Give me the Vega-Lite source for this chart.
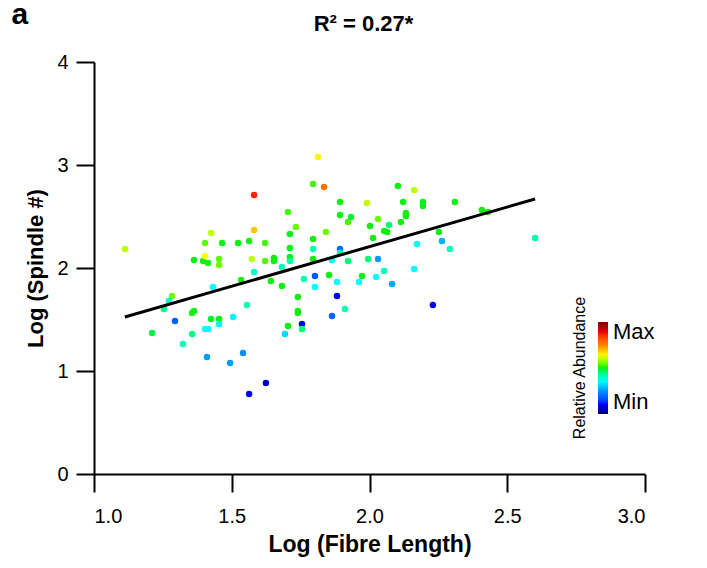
{
  "$schema": "https://vega.github.io/schema/vega-lite/v6.json",
  "width": 551,
  "height": 412,
  "autosize": {"type": "none"},
  "padding": {"left": 94, "top": 62, "right": 62, "bottom": 94},
  "background": "white",
  "title": {"text": "R² = 0.27*", "font": "Liberation Sans", "fontSize": 22, "fontWeight": "bold", "color": "black", "anchor": "middle", "frame": "group", "offset": -37, "dx": -6},
  "config": {
    "view": {"stroke": null},
    "axis": {"domainColor": "black", "domainWidth": 2, "tickColor": "black", "tickWidth": 2, "tickSize": 18, "labelFont": "Liberation Sans", "labelFontSize": 20, "labelColor": "black", "titleFont": "Liberation Sans", "titleFontSize": 22, "titleFontWeight": "bold", "titleColor": "black", "grid": false, "labelPadding": 8}
  },
  "datasets": {
    "points": [
      {"fibre":1.113,"spindle":2.184,"abundance":0.6},
      {"fibre":1.581,"spindle":2.709,"abundance":0.86},
      {"fibre":1.425,"spindle":2.340,"abundance":0.6},
      {"fibre":1.581,"spindle":2.369,"abundance":0.69},
      {"fibre":1.403,"spindle":2.243,"abundance":0.54},
      {"fibre":1.465,"spindle":2.243,"abundance":0.5},
      {"fibre":1.523,"spindle":2.243,"abundance":0.5},
      {"fibre":1.563,"spindle":2.262,"abundance":0.5},
      {"fibre":1.621,"spindle":2.243,"abundance":0.52},
      {"fibre":1.363,"spindle":2.078,"abundance":0.5},
      {"fibre":1.396,"spindle":2.068,"abundance":0.5},
      {"fibre":1.414,"spindle":2.049,"abundance":0.5},
      {"fibre":1.403,"spindle":2.117,"abundance":0.64},
      {"fibre":1.454,"spindle":2.087,"abundance":0.54},
      {"fibre":1.454,"spindle":2.029,"abundance":0.55},
      {"fibre":1.573,"spindle":2.087,"abundance":0.6},
      {"fibre":1.621,"spindle":2.068,"abundance":0.53},
      {"fibre":1.653,"spindle":2.097,"abundance":0.5},
      {"fibre":1.653,"spindle":2.068,"abundance":0.5},
      {"fibre":1.581,"spindle":1.961,"abundance":0.4},
      {"fibre":1.534,"spindle":1.883,"abundance":0.5},
      {"fibre":1.642,"spindle":1.874,"abundance":0.5},
      {"fibre":1.682,"spindle":1.825,"abundance":0.5},
      {"fibre":1.432,"spindle":1.816,"abundance":0.36},
      {"fibre":1.283,"spindle":1.728,"abundance":0.55},
      {"fibre":1.272,"spindle":1.680,"abundance":0.4},
      {"fibre":1.254,"spindle":1.602,"abundance":0.44},
      {"fibre":1.294,"spindle":1.485,"abundance":0.18},
      {"fibre":1.211,"spindle":1.369,"abundance":0.48},
      {"fibre":1.356,"spindle":1.563,"abundance":0.5},
      {"fibre":1.363,"spindle":1.583,"abundance":0.5},
      {"fibre":1.425,"spindle":1.505,"abundance":0.49},
      {"fibre":1.454,"spindle":1.505,"abundance":0.5},
      {"fibre":1.454,"spindle":1.456,"abundance":0.35},
      {"fibre":1.505,"spindle":1.524,"abundance":0.35},
      {"fibre":1.555,"spindle":1.641,"abundance":0.41},
      {"fibre":1.403,"spindle":1.408,"abundance":0.36},
      {"fibre":1.414,"spindle":1.408,"abundance":0.36},
      {"fibre":1.356,"spindle":1.359,"abundance":0.44},
      {"fibre":1.323,"spindle":1.262,"abundance":0.41},
      {"fibre":1.410,"spindle":1.136,"abundance":0.26},
      {"fibre":1.494,"spindle":1.078,"abundance":0.26},
      {"fibre":1.541,"spindle":1.175,"abundance":0.25},
      {"fibre":1.624,"spindle":0.883,"abundance":0.06},
      {"fibre":1.563,"spindle":0.777,"abundance":0.11},
      {"fibre":1.704,"spindle":2.544,"abundance":0.52},
      {"fibre":1.813,"spindle":3.078,"abundance":0.65},
      {"fibre":1.795,"spindle":2.816,"abundance":0.52},
      {"fibre":1.835,"spindle":2.786,"abundance":0.77},
      {"fibre":2.103,"spindle":2.796,"abundance":0.5},
      {"fibre":2.162,"spindle":2.757,"abundance":0.6},
      {"fibre":1.893,"spindle":2.641,"abundance":0.5},
      {"fibre":1.991,"spindle":2.631,"abundance":0.6},
      {"fibre":2.122,"spindle":2.641,"abundance":0.5},
      {"fibre":2.132,"spindle":2.534,"abundance":0.5},
      {"fibre":2.132,"spindle":2.505,"abundance":0.5},
      {"fibre":1.893,"spindle":2.515,"abundance":0.5},
      {"fibre":1.933,"spindle":2.495,"abundance":0.49},
      {"fibre":1.922,"spindle":2.447,"abundance":0.52},
      {"fibre":1.733,"spindle":2.398,"abundance":0.55},
      {"fibre":2.031,"spindle":2.476,"abundance":0.55},
      {"fibre":2.114,"spindle":2.447,"abundance":0.5},
      {"fibre":1.842,"spindle":2.350,"abundance":0.55},
      {"fibre":1.711,"spindle":2.330,"abundance":0.5},
      {"fibre":2.002,"spindle":2.408,"abundance":0.5},
      {"fibre":2.053,"spindle":2.359,"abundance":0.5},
      {"fibre":2.064,"spindle":2.350,"abundance":0.5},
      {"fibre":2.071,"spindle":2.417,"abundance":0.45},
      {"fibre":2.013,"spindle":2.291,"abundance":0.5},
      {"fibre":1.795,"spindle":2.282,"abundance":0.5},
      {"fibre":1.711,"spindle":2.194,"abundance":0.5},
      {"fibre":1.795,"spindle":2.184,"abundance":0.41},
      {"fibre":1.893,"spindle":2.184,"abundance":0.2},
      {"fibre":1.893,"spindle":2.146,"abundance":0.41},
      {"fibre":2.172,"spindle":2.233,"abundance":0.36},
      {"fibre":1.711,"spindle":2.107,"abundance":0.5},
      {"fibre":1.711,"spindle":2.068,"abundance":0.42},
      {"fibre":1.795,"spindle":2.087,"abundance":0.5},
      {"fibre":1.864,"spindle":2.078,"abundance":0.36},
      {"fibre":1.922,"spindle":2.068,"abundance":0.45},
      {"fibre":1.995,"spindle":2.087,"abundance":0.45},
      {"fibre":2.031,"spindle":2.087,"abundance":0.26},
      {"fibre":1.682,"spindle":2.010,"abundance":0.41},
      {"fibre":2.053,"spindle":1.971,"abundance":0.41},
      {"fibre":2.162,"spindle":1.990,"abundance":0.36},
      {"fibre":1.802,"spindle":1.922,"abundance":0.17},
      {"fibre":1.853,"spindle":1.932,"abundance":0.5},
      {"fibre":1.973,"spindle":1.922,"abundance":0.5},
      {"fibre":1.762,"spindle":1.893,"abundance":0.41},
      {"fibre":2.024,"spindle":1.913,"abundance":0.36},
      {"fibre":1.802,"spindle":1.816,"abundance":0.36},
      {"fibre":1.882,"spindle":1.864,"abundance":0.36},
      {"fibre":1.962,"spindle":1.864,"abundance":0.36},
      {"fibre":2.082,"spindle":1.845,"abundance":0.27},
      {"fibre":1.740,"spindle":1.718,"abundance":0.5},
      {"fibre":1.882,"spindle":1.728,"abundance":0.1},
      {"fibre":1.911,"spindle":1.602,"abundance":0.41},
      {"fibre":1.740,"spindle":1.583,"abundance":0.5},
      {"fibre":1.740,"spindle":1.563,"abundance":0.5},
      {"fibre":1.864,"spindle":1.534,"abundance":0.18},
      {"fibre":1.704,"spindle":1.437,"abundance":0.5},
      {"fibre":1.755,"spindle":1.456,"abundance":0.1},
      {"fibre":1.755,"spindle":1.408,"abundance":0.45},
      {"fibre":1.693,"spindle":1.359,"abundance":0.32},
      {"fibre":2.230,"spindle":1.641,"abundance":0.1},
      {"fibre":2.252,"spindle":2.350,"abundance":0.5},
      {"fibre":2.263,"spindle":2.262,"abundance":0.28},
      {"fibre":2.292,"spindle":2.184,"abundance":0.41},
      {"fibre":2.408,"spindle":2.563,"abundance":0.5},
      {"fibre":2.430,"spindle":2.544,"abundance":0.5},
      {"fibre":2.601,"spindle":2.291,"abundance":0.42},
      {"fibre":2.310,"spindle":2.641,"abundance":0.5},
      {"fibre":2.194,"spindle":2.641,"abundance":0.5},
      {"fibre":2.194,"spindle":2.602,"abundance":0.5}
    ],
    "fit": [
      {"fibre":1.112,"spindle":1.524},
      {"fibre":2.601,"spindle":2.670}
    ]
  },
  "layer": [
    {
      "data": {"name": "points"},
      "mark": {"type": "circle", "size": 42, "opacity": 1},
      "encoding": {
        "x": {"field": "fibre", "type": "quantitative", "scale": {"domain": [1, 3], "nice": false, "zero": false},
              "axis": {"values": [1, 1.5, 2, 2.5, 3], "format": ".1f", "title": "Log (Fibre Length)", "titlePadding": 7, "labelPadding": 14, "titleFontSize": 23}},
        "y": {"field": "spindle", "type": "quantitative", "scale": {"domain": [0, 4], "nice": false, "zero": false},
              "axis": {"values": [0, 1, 2, 3, 4], "format": "d", "title": "Log (Spindle #)", "titlePadding": 9}},
        "color": {"field": "abundance", "type": "quantitative",
          "scale": {"domain": [0, 0.11, 0.25, 0.36, 0.43, 0.5, 0.57, 0.64, 0.75, 0.87, 1],
                    "range": ["#00007f", "#0000ff", "#0090ff", "#00ffff", "#00ff90", "#10f010", "#80ff00", "#ffff00", "#ff8000", "#ff0000", "#7f0000"]},
          "legend": {"orient": "none", "legendX": 478, "legendY": 260, "direction": "vertical", "type": "gradient",
                     "values": [0, 1], "labelExpr": "datum.value > 0.5 ? 'Max' : 'Min'",
                     "gradientLength": 92, "gradientThickness": 10, "gradientStrokeWidth": 0,
                     "labelFont": "Liberation Sans", "labelFontSize": 22, "labelColor": "black", "labelOffset": 5,
                     "title": "Relative Abundance", "titleOrient": "left", "titleAngle": 270, "titleAnchor": "middle",
                     "titleFont": "Liberation Sans", "titleFontSize": 16, "titleFontWeight": "normal", "titleColor": "black", "titlePadding": 9}}
      }
    },
    {
      "data": {"name": "fit"},
      "mark": {"type": "line", "color": "black", "strokeWidth": 3},
      "encoding": {
        "x": {"field": "fibre", "type": "quantitative",
              "axis": {"orient": "top", "domain": false, "ticks": false, "labels": false, "title": "a",
                       "titleFontSize": 30, "titleX": -83, "titleY": -39, "titleAlign": "left", "titleBaseline": "alphabetic", "titleAngle": 0}},
        "y": {"field": "spindle", "type": "quantitative"}
      }
    }
  ],
  "resolve": {"axis": {"x": "independent"}}
}
